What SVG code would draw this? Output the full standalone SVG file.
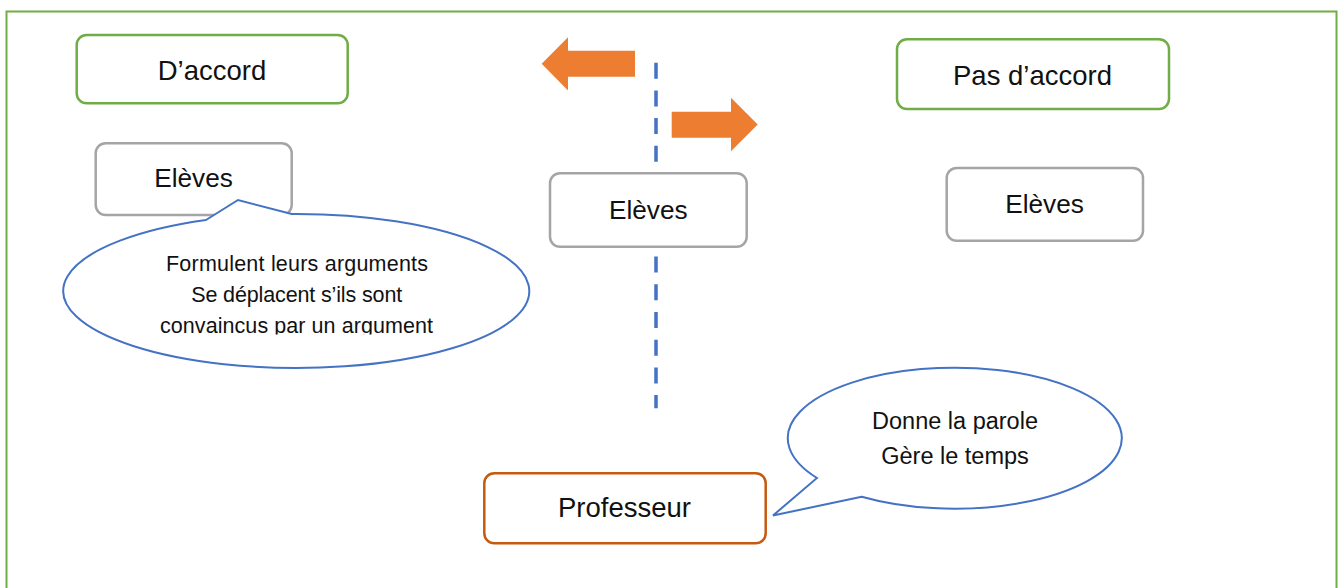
<svg xmlns="http://www.w3.org/2000/svg" width="1344" height="588" viewBox="0 0 1344 588">
  <style>
    .frame { fill: none; stroke: #70AD47; stroke-width: 2; }
    .green { fill: #FFFFFF; stroke: #70AD47; stroke-width: 2.5; }
    .gray { fill: #FFFFFF; stroke: #A5A5A5; stroke-width: 2.5; }
    .prof { fill: #FFFFFF; stroke: #C55A11; stroke-width: 2.5; }
    .bubble { fill: #FFFFFF; stroke: #4472C4; stroke-width: 2; stroke-linejoin: miter; }
    .arrow { fill: #ED7D31; stroke: none; }
    .divider { stroke: #4472C4; stroke-width: 3.5; stroke-dasharray: 16 11.7; fill: none; }
    text { font-family: "Liberation Sans", Arial, sans-serif; fill: #111111; text-anchor: middle; }
    .lbl { font-size: 27.5px; }
    .lbl2 { font-size: 26.2px; }
    .small { font-size: 21.5px; }
    .small2 { font-size: 23.5px; }
  </style>
  <defs>
    <clipPath id="clipLeft">
      <rect x="60" y="240" width="480" height="94.5"/>
    </clipPath>
  </defs>
  <rect width="1344" height="588" fill="#FFFFFF"/>
  <rect class="frame" x="6.5" y="11.5" width="1330" height="620"/>

  <g id="connectors">
    <line class="divider" x1="656" y1="62.7" x2="656" y2="408.3"/>
    <polygon id="arrow-left" class="arrow" points="541.7,63.8 568,37.3 568,50.7 635,50.7 635,76.8 568,76.8 568,90.5"/>
    <polygon id="arrow-right" class="arrow" points="757.7,124.5 731,97.7 731,111.7 671.7,111.7 671.7,137.7 731,137.7 731,151.2"/>
  </g>

  <g id="node-daccord">
    <rect class="green" x="76.7" y="35" width="271" height="68.3" rx="10"/>
    <text class="lbl" x="212" y="80">D’accord</text>
  </g>

  <g id="node-pas-daccord">
    <rect class="green" x="897" y="39.3" width="272" height="69.7" rx="10"/>
    <text class="lbl" x="1032.5" y="85">Pas d’accord</text>
  </g>

  <g id="node-eleves-left">
    <rect class="gray" x="95.7" y="143.3" width="196" height="71.7" rx="10"/>
    <text class="lbl2" x="193.5" y="186.7">Elèves</text>
  </g>

  <g id="node-eleves-center">
    <rect class="gray" x="550" y="173.3" width="196.7" height="73.4" rx="10"/>
    <text class="lbl2" x="648.3" y="219.3">Elèves</text>
  </g>

  <g id="node-eleves-right">
    <rect class="gray" x="946.7" y="168" width="196.3" height="72.7" rx="10"/>
    <text class="lbl2" x="1044.5" y="213.3">Elèves</text>
  </g>

  <g id="node-callout-eleves">
    <path class="bubble" d="M 206,220 L 238,200 L 291.7,214 A 233 77 0 1 1 206,220 Z"/>
    <text class="small" x="297" y="271" textLength="262">Formulent leurs arguments</text>
    <text class="small" x="296.7" y="301.7" textLength="211">Se déplacent s’ils sont</text>
    <g clip-path="url(#clipLeft)">
      <text class="small" x="296.5" y="332.7" textLength="273">convaincus par un argument</text>
    </g>
  </g>

  <g id="node-professeur">
    <rect class="prof" x="484.3" y="473.3" width="281.4" height="70" rx="10"/>
    <text class="lbl" x="624.5" y="517.3">Professeur</text>
  </g>

  <g id="node-callout-professeur">
    <path class="bubble" d="M 861.7,496.7 L 773,515.5 L 817,478 A 167 70.5 0 1 1 861.7,496.7 Z"/>
    <text class="small2" x="955" y="429">Donne la parole</text>
    <text class="small2" x="955" y="464">Gère le temps</text>
  </g>
</svg>
